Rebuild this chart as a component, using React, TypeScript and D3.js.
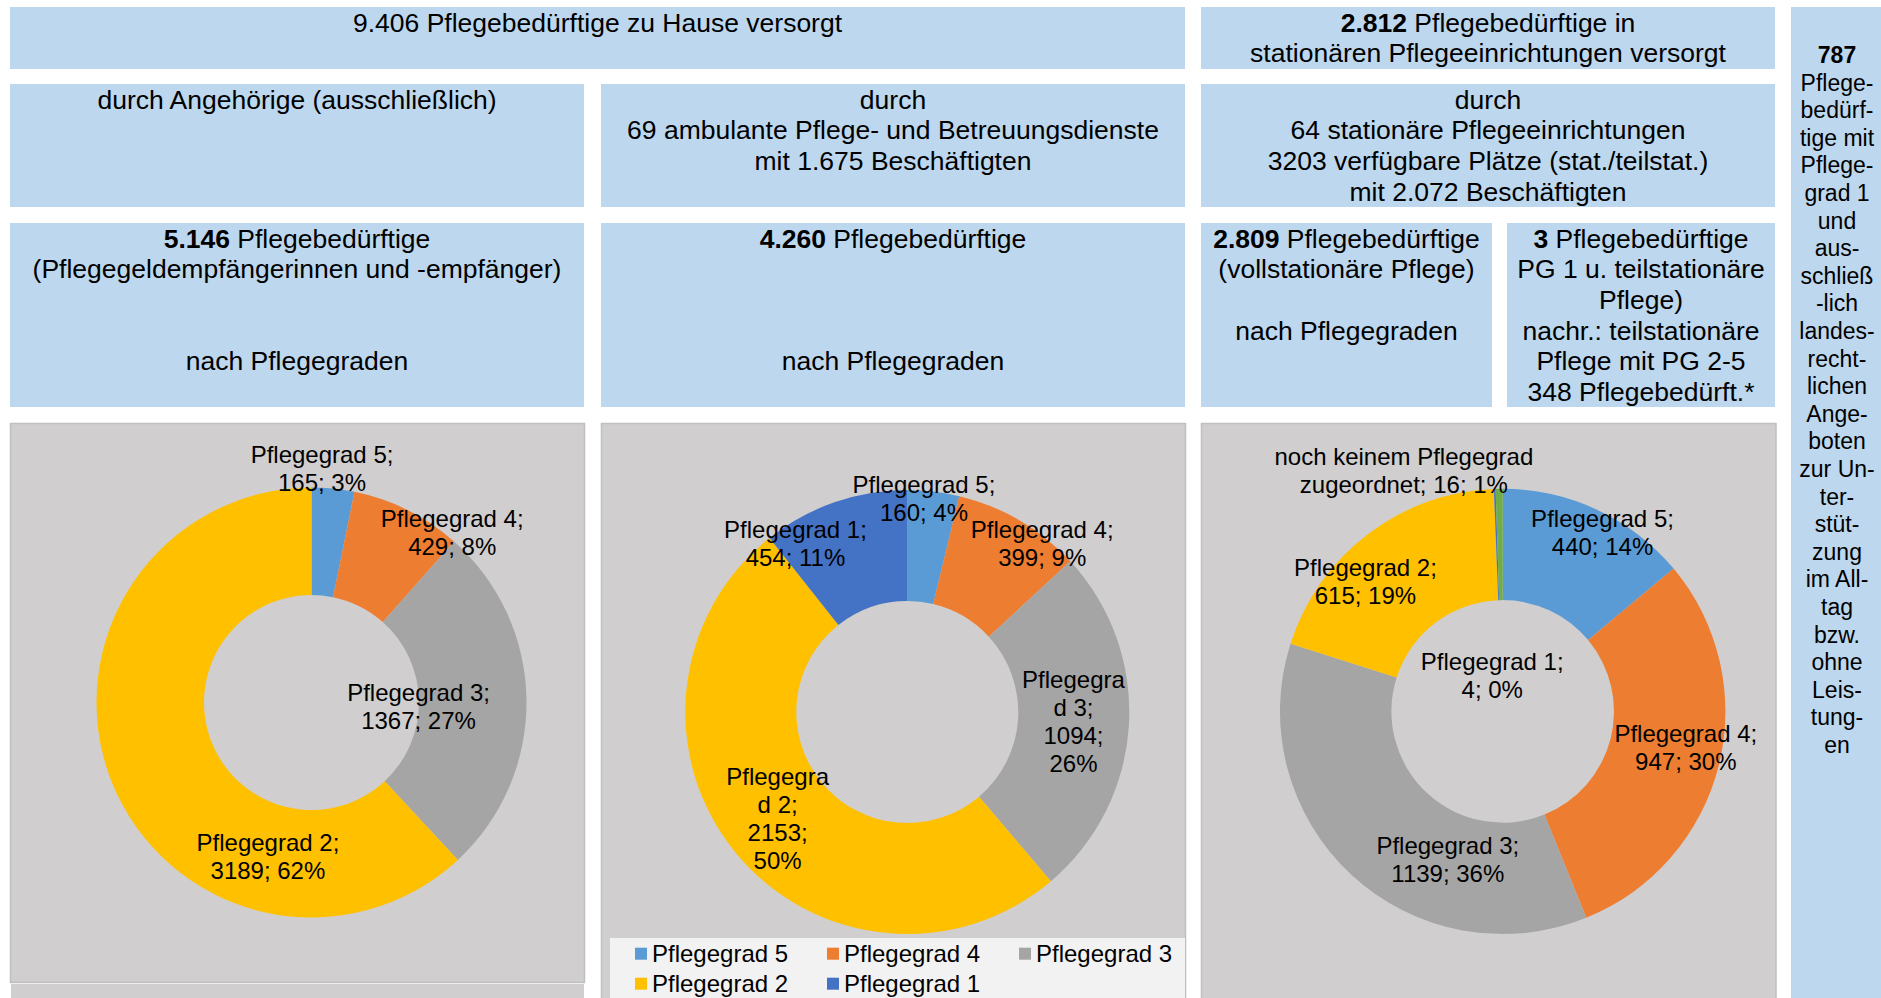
import React from "react";
import * as d3 from "d3";

const FONT = "'Liberation Sans', Arial, Helvetica, sans-serif";

// ---------------- data ----------------
const gradeCategories = [
  "Pflegegrad 5",
  "Pflegegrad 4",
  "Pflegegrad 3",
  "Pflegegrad 2",
  "Pflegegrad 1",
  "noch keinem Pflegegrad zugeordnet",
];
const gradeColors = ["#5B9BD5", "#ED7D31", "#A5A5A5", "#FFC000", "#4472C4", "#70AD47"];

// Donut 1: durch Angehörige
const angehoerigeCategories = ["Pflegegrad 5", "Pflegegrad 4", "Pflegegrad 3", "Pflegegrad 2"];
const angehoerigeValues = [165, 429, 1367, 3189];
const angehoerigePercents = ["3%", "8%", "27%", "62%"];

// Donut 2: ambulante Dienste
const ambulantCategories = ["Pflegegrad 5", "Pflegegrad 4", "Pflegegrad 3", "Pflegegrad 2", "Pflegegrad 1"];
const ambulantValues = [160, 399, 1094, 2153, 454];
const ambulantPercents = ["4%", "9%", "26%", "50%", "11%"];

// Donut 3: stationäre Einrichtungen
const stationaerCategories = [
  "Pflegegrad 5",
  "Pflegegrad 4",
  "Pflegegrad 3",
  "Pflegegrad 2",
  "Pflegegrad 1",
  "noch keinem Pflegegrad zugeordnet",
];
const stationaerValues = [440, 947, 1139, 615, 4, 16];
const stationaerPercents = ["14%", "30%", "36%", "19%", "0%", "1%"];

const legendCategories = ["Pflegegrad 5", "Pflegegrad 4", "Pflegegrad 3", "Pflegegrad 2", "Pflegegrad 1"];

// header texts (**bold**)
const textHome = ["9.406 Pflegebedürftige zu Hause versorgt"];
const textStationaer = ["**2.812** Pflegebedürftige in", "stationären Pflegeeinrichtungen versorgt"];
const textAngehoerige = ["durch Angehörige (ausschließlich)"];
const textAmbulant = ["durch", "69 ambulante Pflege- und Betreuungsdienste", "mit 1.675 Beschäftigten"];
const textStatEinr = [
  "durch",
  "64 stationäre Pflegeeinrichtungen",
  "3203 verfügbare Plätze (stat./teilstat.)",
  "mit 2.072 Beschäftigten",
];
const textPflegegeld = [
  "**5.146** Pflegebedürftige",
  "(Pflegegeldempfängerinnen und -empfänger)",
  "",
  "",
  "nach Pflegegraden",
];
const textAmbulantN = ["**4.260** Pflegebedürftige", "", "", "", "nach Pflegegraden"];
const textVollstat = ["**2.809** Pflegebedürftige", "(vollstationäre Pflege)", "", "nach Pflegegraden"];
const textTeilstat = [
  "**3** Pflegebedürftige",
  "PG 1 u. teilstationäre",
  "Pflege)",
  "nachr.: teilstationäre",
  "Pflege mit PG 2-5",
  "348 Pflegebedürft.*",
];
const textLandesrecht = [
  "**787**", "Pflege-", "bedürf-", "tige mit", "Pflege-", "grad 1", "und", "aus-", "schließ",
  "-lich", "landes-", "recht-", "lichen", "Ange-", "boten", "zur Un-", "ter-", "stüt-", "zung",
  "im All-", "tag", "bzw.", "ohne", "Leis-", "tung-", "en",
];

// ---------------- layout ----------------
const W = 1881;
const H = 998;
const BOX_FILL = "#BDD7EE";
const PANEL_FILL = "#D0CECE";
const PANEL_STROKE = "#BFBFBF";
const HEAD_FS = 26.5;
const HEAD_LH = 30.7;
const HEAD_FIRST = 24.5;

const headerBoxes = [
  { x: 10, y: 7, w: 1175, h: 62, text: textHome },
  { x: 1201, y: 7, w: 574, h: 62, text: textStationaer },
  { x: 10, y: 84, w: 574, h: 123, text: textAngehoerige },
  { x: 601, y: 84, w: 584, h: 123, text: textAmbulant },
  { x: 1201, y: 84, w: 574, h: 123, text: textStatEinr },
  { x: 10, y: 223, w: 574, h: 184, text: textPflegegeld },
  { x: 601, y: 223, w: 584, h: 184, text: textAmbulantN },
  { x: 1201, y: 223, w: 291, h: 184, text: textVollstat },
  { x: 1507, y: 223, w: 268, h: 184, text: textTeilstat },
];
const sideBox = { x: 1791, y: 7, w: 90, h: 991, fs: 23, lh: 27.6, first: 63, cx: 1837 };

const LABEL_FS = 24;
const LABEL_LH = 28;

const donut1 = {
  cx: 311.5, cy: 702.5, rOut: 215, rIn: 107.5,
  nudges: [[-5.7, -73.1], [68.7, -26.0], [-54.2, 6.3], [106.5, 95]],
  breaks: [null, null, null, null],
};
const donut2 = {
  cx: 907.3, cy: 712, rOut: 222, rIn: 111,
  nudges: [[-2.9, -48.2], [50.7, -24.9], [0, -0.3], [-0.9, 0.7], [-57.1, -11.3]],
  breaks: [null, null, [9, 13, 19], [9, 13, 19], null],
};
const donut3 = {
  cx: 1502.7, cy: 711.4, rOut: 222.7, rIn: 111.3,
  nudges: [[29.1, -27.7], [21.1, -4.0], [58.6, 25.6], [-36.1, 2.6], [-4.5, 131.2], [-96.2, -73.8]],
  breaks: [null, null, null, null, null, [22]],
};

const color = d3.scaleOrdinal<string, string>().domain(gradeCategories).range(gradeColors);

function labelLines(cat: string, value: number, pct: string, breaks: number[] | null): string[] {
  const full = `${cat}; ${value}; ${pct}`;
  const b = breaks ?? [cat.length + 1];
  const out: string[] = [];
  let start = 0;
  for (const k of b) {
    out.push(full.slice(start, k).trim());
    start = k;
  }
  out.push(full.slice(start).trim());
  return out;
}

function RichText({ x, y, text, fs }: { x: number; y: number; text: string; fs: number }) {
  if (!text) return null;
  const parts = text.split("**");
  return (
    <text x={x} y={y} textAnchor="middle" fontSize={fs} fill="#000" style={{ whiteSpace: "pre" }}>
      {parts.map((p, i) =>
        p ? (
          <tspan key={i} fontWeight={i % 2 === 1 ? "bold" : "normal"}>
            {p}
          </tspan>
        ) : null
      )}
    </text>
  );
}

function Donut({
  layout,
  categories,
  values,
  percents,
}: {
  layout: any;
  categories: string[];
  values: number[];
  percents: string[];
}) {
  const data = categories.map((c, i) => ({ cat: c, value: values[i], pct: percents[i] }));
  const pie = d3
    .pie<any>()
    .sort(null)
    .value((d: any) => d.value)
    .startAngle(0)
    .endAngle(2 * Math.PI);
  const arcs = pie(data);
  const arc = d3.arc<any>().innerRadius(layout.rIn).outerRadius(layout.rOut);
  return (
    <g transform={`translate(${layout.cx},${layout.cy})`}>
      {arcs.map((a, i) => (
        <path key={i} d={arc(a) || ""} fill={color(a.data.cat)} />
      ))}
      {arcs.map((a, i) => {
        const [x, y] = arc.centroid(a);
        const [dx, dy] = layout.nudges[i];
        const lines = labelLines(a.data.cat, a.data.value, a.data.pct, layout.breaks[i]);
        const n = lines.length;
        return (
          <text key={"l" + i} textAnchor="middle" fontSize={LABEL_FS} fill="#000">
            {lines.map((l, j) => (
              <tspan key={j} x={x + dx} y={y + dy + (j - (n - 1) / 2) * LABEL_LH + 0.35 * LABEL_FS}>
                {l}
              </tspan>
            ))}
          </text>
        );
      })}
    </g>
  );
}

export default function App() {
  const legendX = d3.scalePoint<number>().domain([0, 1, 2]).range([635, 1019]);
  const legendY = d3.scalePoint<number>().domain([0, 1]).range([953.7, 983.7]);
  return (
    <svg
      width={W}
      height={H}
      viewBox={`0 0 ${W} ${H}`}
      style={{ position: "absolute", left: 0, top: 0, background: "#fff" }}
      fontFamily={FONT}
    >
      <rect x={0} y={0} width={W} height={H} fill="#fff" />
      {/* header boxes */}
      {headerBoxes.map((b, i) => (
        <g key={i}>
          <rect x={b.x} y={b.y} width={b.w} height={b.h} fill={BOX_FILL} />
          {b.text.map((t, j) => (
            <RichText key={j} x={b.x + b.w / 2} y={b.y + HEAD_FIRST + j * HEAD_LH} text={t} fs={HEAD_FS} />
          ))}
        </g>
      ))}
      {/* side box */}
      <rect x={sideBox.x} y={sideBox.y} width={sideBox.w} height={sideBox.h} fill={BOX_FILL} />
      {textLandesrecht.map((t, j) => (
        <RichText key={j} x={sideBox.cx} y={sideBox.first + j * sideBox.lh} text={t} fs={sideBox.fs} />
      ))}

      {/* chart panels */}
      <rect x={10.5} y={423.5} width={574} height={559} fill={PANEL_FILL} stroke={PANEL_STROKE} strokeWidth={1.5} />
      <rect x={11} y={984} width={573} height={20} fill={PANEL_FILL} />
      <rect x={601.5} y={423.5} width={584} height={580} fill={PANEL_FILL} stroke={PANEL_STROKE} strokeWidth={1.5} />
      <rect x={1201.5} y={423.5} width={574.5} height={580} fill={PANEL_FILL} stroke={PANEL_STROKE} strokeWidth={1.5} />

      <Donut layout={donut1} categories={angehoerigeCategories} values={angehoerigeValues} percents={angehoerigePercents} />
      <Donut layout={donut2} categories={ambulantCategories} values={ambulantValues} percents={ambulantPercents} />
      <Donut layout={donut3} categories={stationaerCategories} values={stationaerValues} percents={stationaerPercents} />

      {/* legend of panel 2 */}
      <rect x={610} y={938} width={575} height={62} fill="#F2F2F2" />
      {legendCategories.map((c, i) => {
        const col = i % 3;
        const row = Math.floor(i / 3);
        const x = legendX(col) as number;
        const y = legendY(row) as number;
        return (
          <g key={c}>
            <rect x={x} y={y - 6} width={12} height={12} fill={color(c)} />
            <text x={x + 17} y={y + 0.35 * 24} fontSize={24} fill="#000">
              {c}
            </text>
          </g>
        );
      })}
    </svg>
  );
}
